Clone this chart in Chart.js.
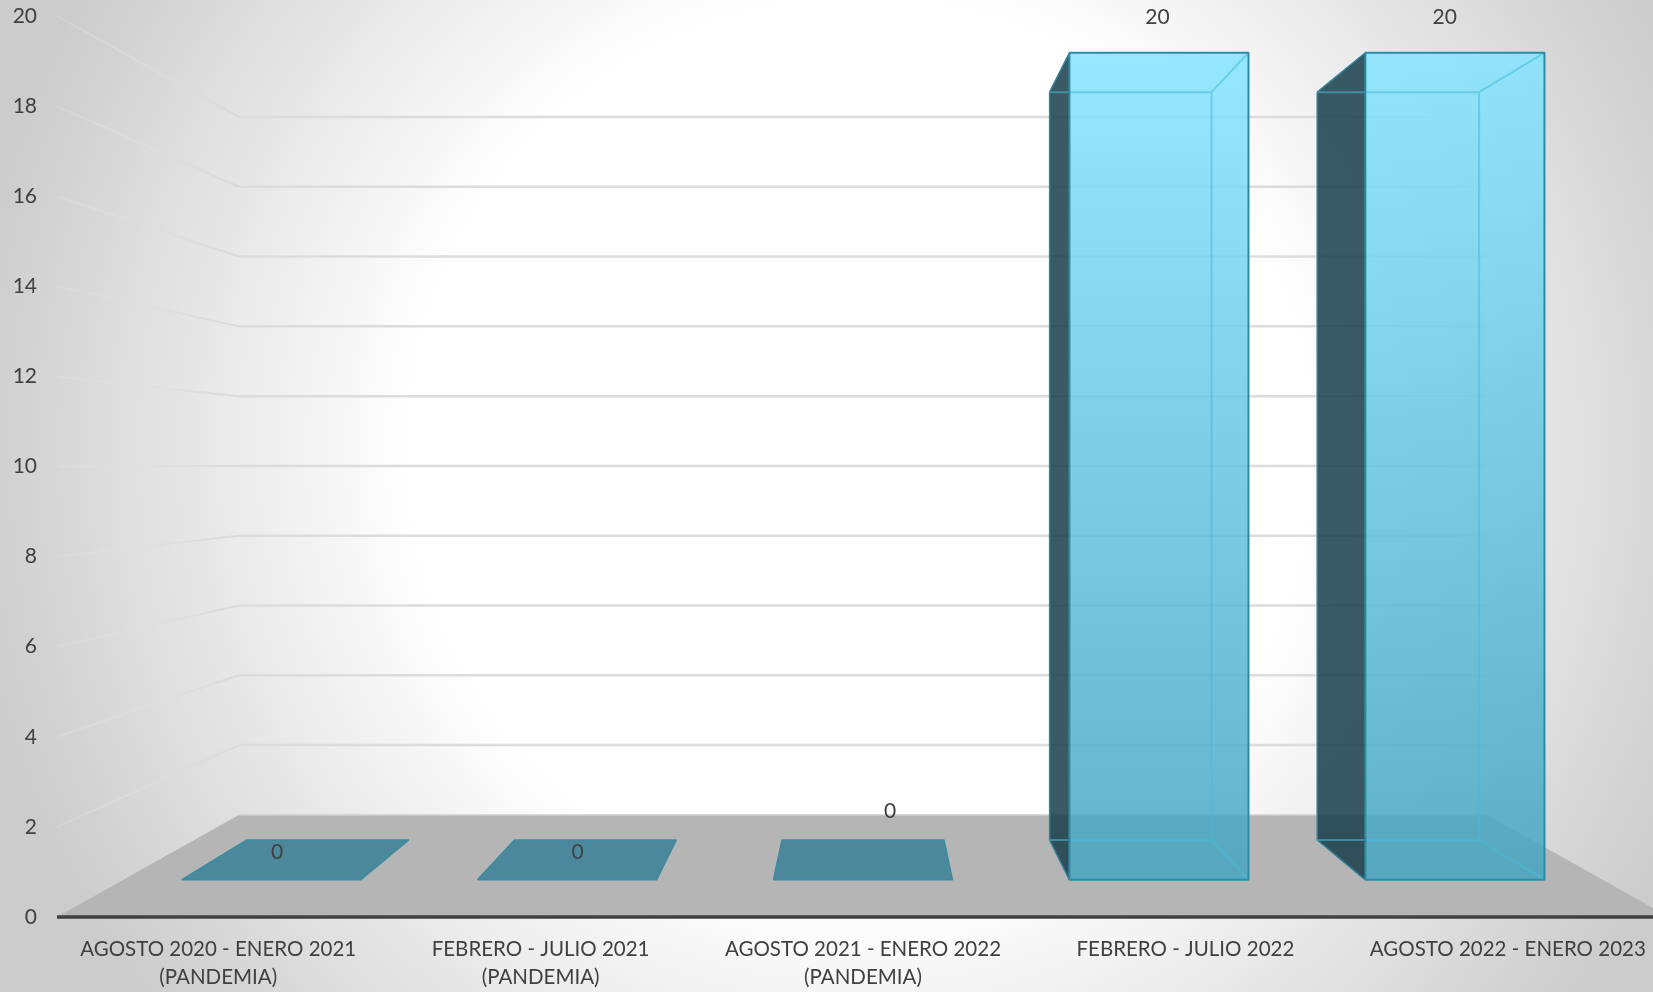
<!DOCTYPE html>
<html lang="es">
<head>
<meta charset="utf-8">
<title>Chart</title>
<script src="https://cdn.jsdelivr.net/npm/chart.js@4/dist/chart.umd.min.js"></script>
<style>
  html, body { margin: 0; padding: 0; overflow: hidden; }
  #wrap {
    width: 1653px; height: 992px; overflow: hidden;
    background: radial-gradient(circle 1000px at 860px 450px, #ffffff 0%, #ffffff 45%, #cccccc 90%, #cccccc 100%);
  }
  canvas { display: block; }
</style>
</head>
<body>
<div id="wrap"><canvas id="chart" width="1680" height="992"></canvas></div>
<script>
const categories = [
  ['AGOSTO 2020 - ENERO 2021', '(PANDEMIA)'],
  ['FEBRERO - JULIO 2021', '(PANDEMIA)'],
  ['AGOSTO 2021 - ENERO 2022', '(PANDEMIA)'],
  'FEBRERO - JULIO 2022',
  'AGOSTO 2022 - ENERO 2023'
];
const values = [0, 0, 0, 20, 20];
const yMax = 20;
const yStep = 2;

// fake perspective: front plane is the chart area, everything deeper shrinks to this point
const vanish = { x: 863, y: 464 };
const wallDepth = 0.7746;
const barFrontDepth = 0.918;
const barBackDepth = 0.83;

// Excel left the value labels in odd places, offsets from the bar centre / value pixel
const labelShift = [[59, -65], [37, -65], [27, -106], [-28, 1], [-63, 1]];

function project(x, y, depth) {
  return [vanish.x + (x - vanish.x) * depth, vanish.y + (y - vanish.y) * depth];
}

function poly(ctx, points, fill, stroke, lineWidth) {
  ctx.beginPath();
  points.forEach((p, i) => (i ? ctx.lineTo(p[0], p[1]) : ctx.moveTo(p[0], p[1])));
  ctx.closePath();
  if (fill) {
    ctx.fillStyle = fill;
    ctx.fill();
  }
  if (stroke) {
    ctx.strokeStyle = stroke;
    ctx.lineWidth = lineWidth || 1;
    ctx.lineJoin = 'bevel';
    ctx.stroke();
  }
}

const scenePlugin = {
  id: 'scene3d',
  // floor and walls go under the bars
  beforeDatasetsDraw(chart) {
    const { ctx, chartArea, scales } = chart;
    const left = chartArea.left;
    const right = chartArea.right;
    const zero = scales.y.getPixelForValue(0);
    ctx.save();
    scales.y.ticks.forEach(t => {
      if (t.value === 0) return;
      const fy = scales.y.getPixelForValue(t.value);
      const a = project(left, fy, wallDepth);
      const b = project(right, fy, wallDepth);
      // side wall lines fade out towards the front
      const fade = ctx.createLinearGradient(left, fy, a[0], a[1]);
      fade.addColorStop(0, 'rgba(228,228,228,0.25)');
      fade.addColorStop(1, '#d9d9d9');
      ctx.beginPath();
      ctx.moveTo(left, fy);
      ctx.lineTo(a[0], a[1]);
      ctx.strokeStyle = fade;
      ctx.lineWidth = 2;
      ctx.stroke();
      ctx.beginPath();
      ctx.moveTo(a[0], a[1]);
      ctx.lineTo(b[0], b[1]);
      ctx.strokeStyle = '#dcdcdc';
      ctx.lineWidth = 2.5;
      ctx.stroke();
    });
    const fl = project(left, zero, wallDepth);
    const fr = project(right, zero, wallDepth);
    poly(ctx, [[left, zero], fl, fr, [right, zero]], '#b5b5b5');
    ctx.beginPath();
    ctx.moveTo(fl[0], fl[1]);
    ctx.lineTo(fr[0], fr[1]);
    ctx.strokeStyle = '#cfcfcf';
    ctx.lineWidth = 1.5;
    ctx.stroke();
    ctx.restore();
  },
  afterDatasetsDraw(chart) {
    const { ctx, chartArea, scales } = chart;
    const zero = scales.y.getPixelForValue(0);
    const meta = chart.getDatasetMeta(0);
    ctx.save();

    meta.data.forEach((bar, i) => {
      const x0 = bar.x - bar.width / 2;
      const x1 = bar.x + bar.width / 2;
      const top = bar.y;
      const fbl = project(x0, zero, barFrontDepth);
      const fbr = project(x1, zero, barFrontDepth);
      const ftl = project(x0, top, barFrontDepth);
      const ftr = project(x1, top, barFrontDepth);
      const bbl = project(x0, zero, barBackDepth);
      const bbr = project(x1, zero, barBackDepth);
      const btl = project(x0, top, barBackDepth);
      const btr = project(x1, top, barBackDepth);

      if (values[i] === 0) {
        // flat bar, only the lid shows
        poly(ctx, [fbl, bbl, bbr, fbr], '#4b889c', '#3d8ba1', 1.5);
        return;
      }

      const frontFill = ctx.createLinearGradient(0, ftl[1], 0, fbl[1]);
      frontFill.addColorStop(0, 'rgba(130,228,255,0.84)');
      frontFill.addColorStop(1, 'rgba(68,165,192,0.84)');

      // left side is the dark one
      poly(ctx, [bbl, btl, ftl, fbl], 'rgba(24,62,74,0.85)');
      ctx.beginPath();
      ctx.moveTo(btl[0], btl[1]);
      ctx.lineTo(bbl[0], bbl[1]);
      ctx.lineTo(fbl[0], fbl[1]);
      ctx.moveTo(btl[0], btl[1]);
      ctx.lineTo(ftl[0], ftl[1]);
      ctx.strokeStyle = '#2f7f96';
      ctx.lineWidth = 1.5;
      ctx.stroke();

      poly(ctx, [ftl, ftr, fbr, fbl], frontFill);

      // inner edges seen through the glass
      ctx.beginPath();
      ctx.moveTo(btl[0], btl[1]);
      ctx.lineTo(btr[0], btr[1]);
      ctx.lineTo(bbr[0], bbr[1]);
      ctx.lineTo(bbl[0], bbl[1]);
      ctx.moveTo(btr[0], btr[1]);
      ctx.lineTo(ftr[0], ftr[1]);
      ctx.moveTo(bbr[0], bbr[1]);
      ctx.lineTo(fbr[0], fbr[1]);
      ctx.strokeStyle = 'rgba(70,185,215,0.55)';
      ctx.lineWidth = 2;
      ctx.stroke();

      poly(ctx, [ftl, ftr, fbr, fbl], null, '#2f8ba5', 2);
    });

    // axis line over the floor
    ctx.beginPath();
    ctx.moveTo(chartArea.left, zero);
    ctx.lineTo(chartArea.right, zero);
    ctx.strokeStyle = '#404040';
    ctx.lineWidth = 3.5;
    ctx.stroke();

    ctx.fillStyle = '#404040';
    ctx.font = '21px Lato';
    ctx.textAlign = 'center';
    ctx.textBaseline = 'middle';
    meta.data.forEach((bar, i) => {
      const y = values[i] === 0 ? zero : bar.y;
      ctx.fillText(String(values[i]), bar.x + labelShift[i][0], y + labelShift[i][1]);
    });
    ctx.restore();
  }
};

new Chart(document.getElementById('chart'), {
  type: 'bar',
  data: {
    labels: categories,
    datasets: [{
      data: values,
      backgroundColor: 'rgba(0,0,0,0)',
      borderWidth: 0,
      categoryPercentage: 1,
      barPercentage: 0.605
    }]
  },
  options: {
    responsive: false,
    animation: false,
    devicePixelRatio: 1,
    layout: { padding: { top: 16, right: 11, left: 0, bottom: 0 } },
    plugins: { legend: { display: false }, title: { display: false }, tooltip: { enabled: false } },
    scales: {
      x: {
        grid: { display: false, drawTicks: false },
        border: { display: false },
        ticks: {
          color: '#404040',
          font: { family: 'Lato', size: 20.5, lineHeight: 1.38 },
          padding: 18,
          autoSkip: false,
          maxRotation: 0,
          minRotation: 0
        },
        afterFit(scale) {
          scale.height = 75;
          scale.paddingLeft = 0;
          scale.paddingRight = 0;
        }
      },
      y: {
        min: 0,
        max: yMax,
        grid: { display: false, drawTicks: false },
        border: { display: false },
        ticks: {
          stepSize: yStep,
          color: '#404040',
          font: { family: 'Lato', size: 21 },
          padding: 20
        },
        afterFit(scale) {
          // tick padding would otherwise push the chart area down
          scale.width = 57;
          scale.paddingTop = 0;
          scale.paddingBottom = 0;
        }
      }
    }
  },
  plugins: [scenePlugin]
});
</script>
</body>
</html>
